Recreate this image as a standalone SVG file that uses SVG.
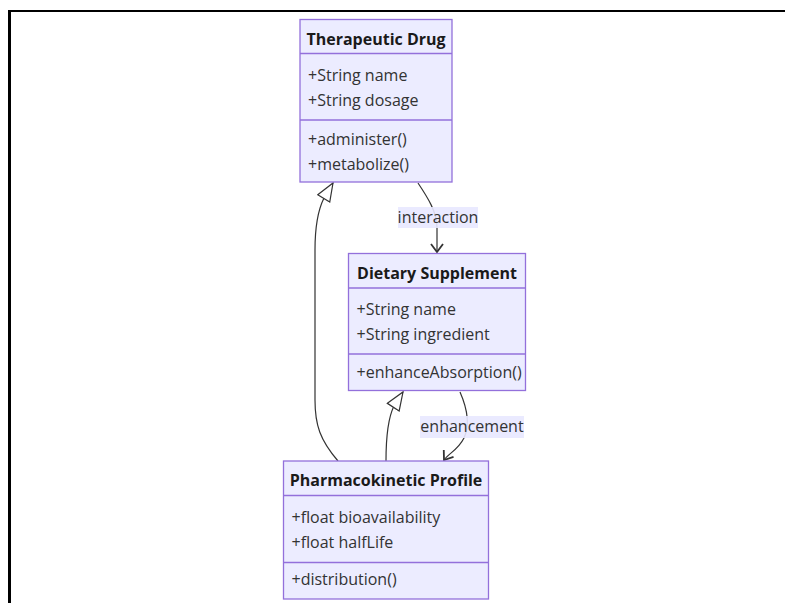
<svg xmlns="http://www.w3.org/2000/svg" width="785" height="603" viewBox="0 0 785 603">
<style>
.box{fill:#ececff;stroke:#9370db;stroke-width:1.3}
.div{stroke:#9370db;stroke-width:1.3}
.title{font-family:"Open Sans","Noto Sans",sans-serif;font-size:16px;font-weight:bold;fill:#1a1a1a;text-anchor:middle}
.mem{font-family:"Open Sans","Noto Sans",sans-serif;font-size:16px;fill:#333}
.edge{fill:none;stroke:#333;stroke-width:1.2}
.lblbg{fill:#e8e8ff;opacity:0.9}
.lbl{font-family:"Open Sans","Noto Sans",sans-serif;font-size:16px;fill:#333;text-anchor:middle}
</style>
<defs>
<marker id="tri" markerUnits="userSpaceOnUse" viewBox="0 0 20 16" refX="19" refY="8" markerWidth="20" markerHeight="16" orient="auto-start-reverse">
<path d="M1,1 L19,8 L1,15 Z" fill="#fff" stroke="#333" stroke-width="1.2"/>
</marker>
<marker id="arr" markerUnits="userSpaceOnUse" viewBox="0 0 12 16" refX="9" refY="8" markerWidth="12" markerHeight="16" orient="auto">
<path d="M1,2 L9,8 L1,14" fill="none" stroke="#333" stroke-width="1.8"/>
</marker>
</defs>
<rect width="785" height="603" fill="#fff"/>
<g id="frame">
<line x1="8" y1="11" x2="785" y2="11" stroke="#000" stroke-width="2.2"/>
<line x1="9.5" y1="10" x2="9.5" y2="603" stroke="#000" stroke-width="3"/>
</g>
<g id="connectors">
<path class="edge" d="M418,183 C428,198 437,212 437,228 L437,252" marker-end="url(#arr)"/>
<path class="edge" d="M460,392 C467,408 470,425 464,438 C458,450 449,453 444,460" marker-end="url(#arr)"/>
<path class="edge" d="M403,392 L394,406 C387,420 386,440 386,461" marker-start="url(#tri)"/>
<path class="edge" d="M333,183 L324,198 C318,210 315,225 315,250 L315,400 C315,425 320,440 338,461" marker-start="url(#tri)"/>
<g id="label-interaction">
<rect class="lblbg" x="398" y="207" width="80" height="21"/>
<text class="lbl" x="438" y="223">interaction</text>
</g>
<g id="label-enhancement">
<rect class="lblbg" x="420" y="416" width="104" height="22"/>
<text class="lbl" x="472" y="432">enhancement</text>
</g>
</g>
<g id="TherapeuticDrug">
<rect class="box" x="300" y="19.5" width="152" height="162.5"/>
<line class="div" x1="300" y1="53.5" x2="452" y2="53.5"/>
<line class="div" x1="300" y1="120" x2="452" y2="120"/>
<text class="title" x="376" y="45">Therapeutic Drug</text>
<text class="mem" x="308" y="81">+String name</text>
<text class="mem" x="308" y="106">+String dosage</text>
<text class="mem" x="308" y="144.5">+administer()</text>
<text class="mem" x="308" y="169.5">+metabolize()</text>
</g>
<g id="DietarySupplement">
<rect class="box" x="348.5" y="253.5" width="177" height="137"/>
<line class="div" x1="348.5" y1="288" x2="525.5" y2="288"/>
<line class="div" x1="348.5" y1="354" x2="525.5" y2="354"/>
<text class="title" x="437" y="278.5">Dietary Supplement</text>
<text class="mem" x="356.5" y="315">+String name</text>
<text class="mem" x="356.5" y="340">+String ingredient</text>
<text class="mem" x="356.5" y="378">+enhanceAbsorption()</text>
</g>
<g id="PharmacokineticProfile">
<rect class="box" x="283.5" y="461" width="205" height="138"/>
<line class="div" x1="283.5" y1="495.5" x2="488.5" y2="495.5"/>
<line class="div" x1="283.5" y1="562.5" x2="488.5" y2="562.5"/>
<text class="title" x="386" y="486">Pharmacokinetic Profile</text>
<text class="mem" x="291.5" y="522.5">+float bioavailability</text>
<text class="mem" x="291.5" y="547.5">+float halfLife</text>
<text class="mem" x="291.5" y="585">+distribution()</text>
</g>
</svg>
